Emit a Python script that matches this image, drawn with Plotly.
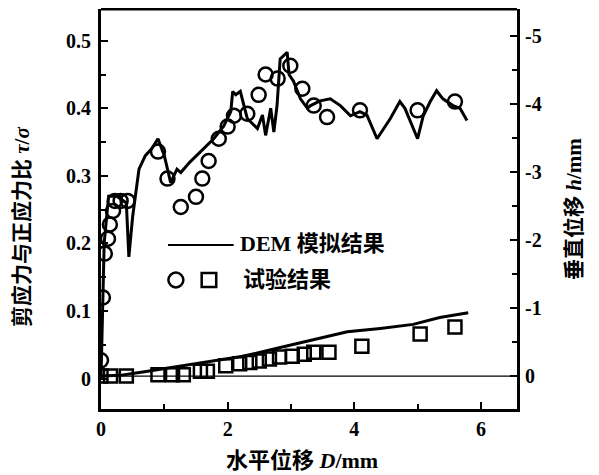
import plotly.graph_objects as go

# DEM simulated shear/normal stress ratio (left axis)
dem_ratio_x = [0, 0.02, 0.05, 0.1, 0.12, 0.25, 0.4, 0.44, 0.5, 0.6, 0.7, 0.8, 0.9, 1.0, 1.1,
               1.2, 1.26, 1.4, 1.57, 1.78, 1.94, 2.05, 2.08, 2.13, 2.2, 2.31, 2.47, 2.55, 2.6,
               2.68, 2.73, 2.78, 2.83, 2.94, 2.97, 3.04, 3.15, 3.26, 3.31, 3.46, 3.62, 3.78,
               3.94, 4.09, 4.2, 4.36, 4.57, 4.72, 4.8, 5.0, 5.09, 5.2, 5.3, 5.4, 5.56, 5.67, 5.78]
dem_ratio_y = [0, 0.1, 0.2, 0.25, 0.27, 0.27, 0.26, 0.18, 0.24, 0.31, 0.33, 0.34, 0.355, 0.33, 0.29,
               0.31, 0.305, 0.32, 0.336, 0.355, 0.374, 0.395, 0.425, 0.42, 0.425, 0.385, 0.37, 0.39, 0.36,
               0.40, 0.365, 0.404, 0.473, 0.483, 0.45, 0.44, 0.414, 0.40, 0.404, 0.411, 0.414, 0.404,
               0.389, 0.395, 0.39, 0.355, 0.385, 0.41, 0.40, 0.355, 0.389, 0.41, 0.426, 0.414, 0.404, 0.40, 0.382]

# Test shear/normal stress ratio (circles, left axis)
test_ratio_x = [0, 0.03, 0.06, 0.11, 0.14, 0.19, 0.22, 0.31, 0.42, 0.9, 1.05, 1.26, 1.5, 1.6, 1.7,
                1.86, 2.0, 2.1, 2.31, 2.49, 2.6, 2.79, 2.99, 3.18, 3.36, 3.57, 4.09, 5.0, 5.59]
test_ratio_y = [0.027, 0.12, 0.185, 0.207, 0.228, 0.248, 0.263, 0.263, 0.263, 0.336, 0.296, 0.254, 0.269,
                0.296, 0.322, 0.355, 0.373, 0.389, 0.392, 0.42, 0.45, 0.444, 0.463, 0.429, 0.404, 0.387,
                0.397, 0.397, 0.41]

# DEM simulated vertical displacement h (right axis)
dem_h_x = [0, 0.3, 0.66, 1.45, 2.24, 2.83, 3.15, 3.35, 3.89, 4.41, 4.93, 5.35, 5.8]
dem_h_y = [0, -0.01, -0.06, -0.18, -0.29, -0.42, -0.49, -0.53, -0.65, -0.7, -0.76, -0.86, -0.93]

# Test vertical displacement h (squares, right axis)
test_h_x = [0, 0.15, 0.4, 0.9, 1.13, 1.3, 1.57, 1.68, 1.97, 2.19, 2.35, 2.5, 2.66, 2.82, 3.02,
            3.21, 3.36, 3.6, 4.12, 5.04, 5.59]
test_h_y = [0, 0, 0, -0.02, -0.02, -0.02, -0.07, -0.07, -0.15, -0.18, -0.2, -0.22, -0.25, -0.28, -0.29,
            -0.32, -0.35, -0.35, -0.44, -0.62, -0.72]

x_ticks = [0, 2, 4, 6]
y_ticks = [0, 0.1, 0.2, 0.3, 0.4, 0.5]
y_ticklabels = ["0", "0.1", "0.2", "0.3", "0.4", "0.5"]
y2_ticks = [-5, -4, -3, -2, -1, 0]
y2_ticklabels = ["-5", "-4", "-3", "-2", "-1", "0"]

SERIF = "Liberation Serif, Times New Roman, Noto Sans CJK SC, serif"
CJK = "Liberation Serif, Noto Sans CJK SC, sans-serif"

fig = go.Figure()

# zero line for h
fig.add_trace(go.Scatter(x=[0, 6.6], y=[0, 0], yaxis="y2", mode="lines",
                         line=dict(color="black", width=1.2), showlegend=False, hoverinfo="skip"))

fig.add_trace(go.Scatter(x=dem_h_x, y=dem_h_y, yaxis="y2", mode="lines",
                         line=dict(color="black", width=3), showlegend=False))
fig.add_trace(go.Scatter(x=test_h_x, y=test_h_y, yaxis="y2", mode="markers",
                         marker=dict(symbol="square-open", size=13, color="black", line=dict(width=2.5)),
                         showlegend=False))
fig.add_trace(go.Scatter(x=dem_ratio_x, y=dem_ratio_y, mode="lines",
                         line=dict(color="black", width=3), showlegend=False))
fig.add_trace(go.Scatter(x=test_ratio_x, y=test_ratio_y, mode="markers",
                         marker=dict(symbol="circle-open", size=14, color="black", line=dict(width=2.5)),
                         showlegend=False))

tickfont = dict(family=SERIF, size=20, color="black", weight="bold")

# page has an 8px body margin: figure is drawn at (8, 8)
fig.update_layout(
    width=591, height=467,
    margin=dict(l=93, r=82, t=1, b=66),
    plot_bgcolor="white", paper_bgcolor="white",
    xaxis=dict(range=[0, 6.57], tickvals=x_ticks, ticktext=[str(v) for v in x_ticks],
               showline=True, linecolor="black", linewidth=3,
               ticks="inside", ticklen=7, tickwidth=2, tickcolor="black",
               minor=dict(ticks="inside", ticklen=5, tickwidth=2, dtick=1, tickcolor="black"),
               showgrid=False, zeroline=False, tickfont=tickfont, ticklabelstandoff=0),
    yaxis=dict(range=[-0.045, 0.547], tickvals=y_ticks, ticktext=y_ticklabels,
               showline=True, linecolor="black", linewidth=3,
               ticks="inside", ticklen=7, tickwidth=2, tickcolor="black",
               minor=dict(ticks="inside", ticklen=5, tickwidth=2, dtick=0.05, tickcolor="black"),
               showgrid=False, zeroline=False, tickfont=tickfont, ticklabelstandoff=3),
    yaxis2=dict(range=[0.485, -5.4], overlaying="y", side="right",
                tickvals=y2_ticks, ticktext=y2_ticklabels,
                showline=True, linecolor="black", linewidth=3,
                ticks="inside", ticklen=7, tickwidth=2, tickcolor="black",
                minor=dict(ticks="inside", ticklen=5, tickwidth=2, dtick=0.5, tickcolor="black"),
                showgrid=False, zeroline=False, tickfont=tickfont, ticklabelstandoff=1),
)

# top border
fig.add_shape(type="line", xref="paper", yref="paper", x0=0, x1=1, y0=1, y1=1,
              line=dict(color="black", width=3))

titlefont = dict(family=CJK, size=21, color="black", weight="bold")
bigfont = dict(family=CJK, size=22, color="black", weight="bold")

fig.add_annotation(text="剪应力与正应力比 <i>τ</i>/<i>σ</i>", xref="paper", yref="paper",
                   x=-0.19, y=0.455, xanchor="center", yanchor="middle",
                   textangle=-90, showarrow=False, font=titlefont)
fig.add_annotation(text="垂直位移 <i>h</i>/mm", xref="paper", yref="paper",
                   x=1.137, y=0.5, xanchor="center", yanchor="middle",
                   textangle=-90, showarrow=False, font=titlefont)
fig.add_annotation(text="水平位移 <i>D</i>/mm", xref="paper", yref="paper",
                   x=0.483, y=-0.1275, xanchor="center", yanchor="middle",
                   showarrow=False, font=bigfont)

# legend
fig.add_shape(type="line", xref="paper", yref="paper", x0=0.161, x1=0.319, y0=0.41, y1=0.41,
              line=dict(color="black", width=2))
fig.add_shape(type="circle", xref="paper", yref="paper", x0=0.162, x1=0.198, y0=0.304, y1=0.341,
              line=dict(color="black", width=2.5))
fig.add_shape(type="rect", xref="paper", yref="paper", x0=0.242, x1=0.277, y0=0.305, y1=0.340,
              line=dict(color="black", width=2.5))
fig.add_annotation(text="DEM 模拟结果", xref="paper", yref="paper", x=0.329, y=0.415,
                   xanchor="left", yanchor="middle", showarrow=False, font=bigfont)
fig.add_annotation(text="试验结果", xref="paper", yref="paper", x=0.336, y=0.325,
                   xanchor="left", yanchor="middle", showarrow=False, font=bigfont)

fig.write_html("out.html")
